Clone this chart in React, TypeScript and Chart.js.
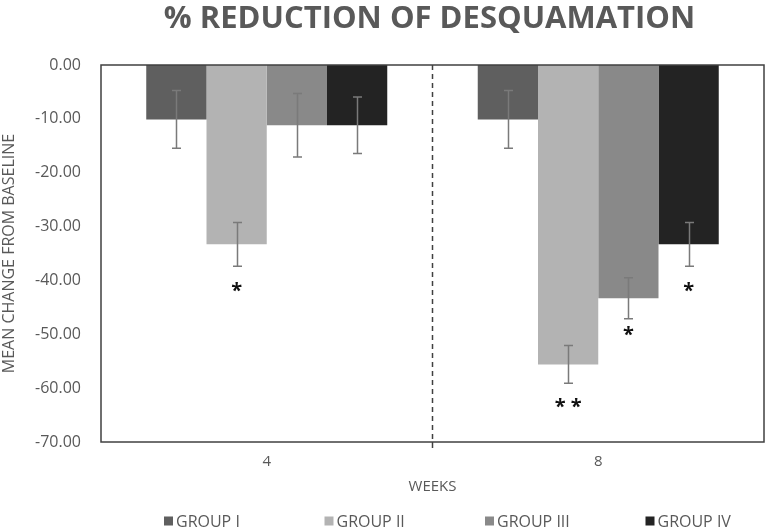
import React, { useEffect, useRef } from "react";
import { Chart, registerables } from "chart.js";

Chart.register(...registerables);

const chartTitle = "% REDUCTION OF DESQUAMATION";
const yAxisTitle = "MEAN CHANGE FROM BASELINE";
const xAxisTitle = "WEEKS";
const categories = ["4", "8"];
const groupLabels = ["GROUP I", "GROUP II", "GROUP III", "GROUP IV"];
const groupColors = ["#5f5f5f", "#b3b3b3", "#898989", "#232323"];

const groupI = [-10.1, -10.1];
const groupII = [-33.3, -55.6];
const groupIII = [-11.2, -43.3];
const groupIV = [-11.2, -33.3];

const errI = [5.35, 5.35];
const errII = [4.05, 3.5];
const errIII = [5.9, 3.8];
const errIV = [5.25, 4.05];

const marksI = ["", ""];
const marksII = ["*", "**"];
const marksIII = ["", "*"];
const marksIV = ["", "*"];
// value level where each significance mark is centred
const markLevelI = [0, 0];
const markLevelII = [-41.3, -62.8];
const markLevelIII = [0, -49.3];
const markLevelIV = [0, -41.3];

const yMin = -70;
const yMax = 0;
const yStep = 10;

const seriesValues = [groupI, groupII, groupIII, groupIV];
const seriesErrors = [errI, errII, errIII, errIV];
const seriesMarks = [marksI, marksII, marksIII, marksIV];
const seriesMarkLevels = [markLevelI, markLevelII, markLevelIII, markLevelIV];

const FONT = "'Open Sans', 'DejaVu Sans', sans-serif";
const TEXT = "#595959";
const FRAME = "#404040";

const overlayPlugin = {
  id: "overlay",
  afterDatasetsDraw(chart: any) {
    const ctx = chart.ctx as CanvasRenderingContext2D;
    const ys = chart.scales.y;
    const xs = chart.scales.x;
    const area = chart.chartArea;

    // error bars
    ctx.save();
    ctx.strokeStyle = "#7a7a7a";
    ctx.lineWidth = 1.5;
    chart.data.datasets.forEach((ds: any, di: number) => {
      const meta = chart.getDatasetMeta(di);
      meta.data.forEach((bar: any, i: number) => {
        const v = ds.data[i];
        const e = seriesErrors[di][i];
        const x = Math.round(bar.x) + 0.5;
        const y1 = ys.getPixelForValue(v + e);
        const y2 = ys.getPixelForValue(v - e);
        const cap = 4.5;
        ctx.beginPath();
        ctx.moveTo(x, y1);
        ctx.lineTo(x, y2);
        ctx.moveTo(x - cap, y1);
        ctx.lineTo(x + cap, y1);
        ctx.moveTo(x - cap, y2);
        ctx.lineTo(x + cap, y2);
        ctx.stroke();
      });
    });
    ctx.restore();

    // significance marks
    ctx.save();
    ctx.fillStyle = "#111111";
    ctx.font = "bold 20px 'Open Sans', sans-serif";
    ctx.textAlign = "center";
    ctx.textBaseline = "alphabetic";
    chart.data.datasets.forEach((_ds: any, di: number) => {
      const meta = chart.getDatasetMeta(di);
      meta.data.forEach((bar: any, i: number) => {
        const m = seriesMarks[di][i];
        if (!m) return;
        const cy = ys.getPixelForValue(seriesMarkLevels[di][i]);
        const txt = m.split("").join(" ");
        const mt = ctx.measureText(txt);
        const base = cy - (mt.actualBoundingBoxDescent - mt.actualBoundingBoxAscent) / 2;
        ctx.fillText(txt, bar.x, base);
      });
    });
    ctx.restore();

    // frame and divider
    ctx.save();
    ctx.strokeStyle = FRAME;
    ctx.lineWidth = 1.5;
    ctx.strokeRect(area.left, area.top, area.right - area.left, area.bottom - area.top);
    const midX = (xs.getPixelForValue(0) + xs.getPixelForValue(1)) / 2;
    ctx.setLineDash([5, 4]);
    ctx.beginPath();
    ctx.moveTo(midX, area.top);
    ctx.lineTo(midX, area.bottom);
    ctx.stroke();
    ctx.setLineDash([]);
    ctx.beginPath();
    ctx.moveTo(midX, area.bottom);
    ctx.lineTo(midX, area.bottom + 6);
    ctx.stroke();
    ctx.restore();

    // title
    ctx.save();
    ctx.fillStyle = TEXT;
    ctx.font = "bold 31px 'Open Sans', sans-serif";
    ctx.textAlign = "center";
    ctx.textBaseline = "middle";
    ctx.fillText(chartTitle, (area.left + area.right) / 2 - 3, 19);
    ctx.restore();

    // legend
    ctx.save();
    ctx.font = "16px 'Open Sans', sans-serif";
    ctx.textBaseline = "middle";
    ctx.textAlign = "left";
    const legendY = 521;
    const startX = 164;
    const slot = 160.5;
    chart.data.datasets.forEach((ds: any, di: number) => {
      const x = startX + di * slot;
      ctx.fillStyle = ds.backgroundColor;
      ctx.fillRect(x, legendY - 4.5, 9, 9);
      ctx.fillStyle = TEXT;
      ctx.fillText(ds.label, x + 12, legendY + 1);
    });
    ctx.restore();
  },
};

export default function App() {
  const ref = useRef<HTMLCanvasElement | null>(null);

  useEffect(() => {
    if (!ref.current) return;
    const chart = new Chart(ref.current, {
      type: "bar",
      data: {
        labels: categories,
        datasets: groupLabels.map((label, i) => ({
          label,
          data: seriesValues[i],
          backgroundColor: groupColors[i],
          borderWidth: 0,
          categoryPercentage: 0.727,
          barPercentage: 1.0,
        })),
      },
      options: {
        responsive: false,
        animation: false,
        layout: { padding: { top: 65, left: 0, right: 3, bottom: 33 } },
        plugins: {
          legend: { display: false },
          title: { display: false },
          tooltip: { enabled: false },
        },
        scales: {
          x: {
            grid: { display: false, drawTicks: false },
            border: { display: false },
            ticks: { color: TEXT, font: { family: FONT, size: 15 }, padding: 11 },
            title: {
              display: true,
              text: xAxisTitle,
              color: TEXT,
              font: { family: FONT, size: 15 },
              padding: { top: 4, bottom: 2 },
            },
            afterFit: (s: any) => {
              s.height = 56;
            },
          },
          y: {
            min: yMin,
            max: yMax,
            grid: { display: false, drawTicks: false },
            border: { display: false },
            ticks: {
              stepSize: yStep,
              color: TEXT,
              font: { family: FONT, size: 16 },
              padding: 20,
              callback: (v: any) => Number(v).toFixed(2),
            },
            title: {
              display: true,
              text: yAxisTitle,
              color: TEXT,
              font: { family: FONT, size: 16 },
              padding: { top: 0, bottom: 0 },
            },
            afterFit: (s: any) => {
              s.width = 101;
            },
          },
        },
      },
      plugins: [overlayPlugin],
    });
    return () => chart.destroy();
  }, []);

  return (
    <div style={{ position: "absolute", left: 0, top: 0, width: 767, height: 531, background: "#fff" }}>
      <canvas ref={ref} width={767} height={531} style={{ display: "block" }} />
    </div>
  );
}
